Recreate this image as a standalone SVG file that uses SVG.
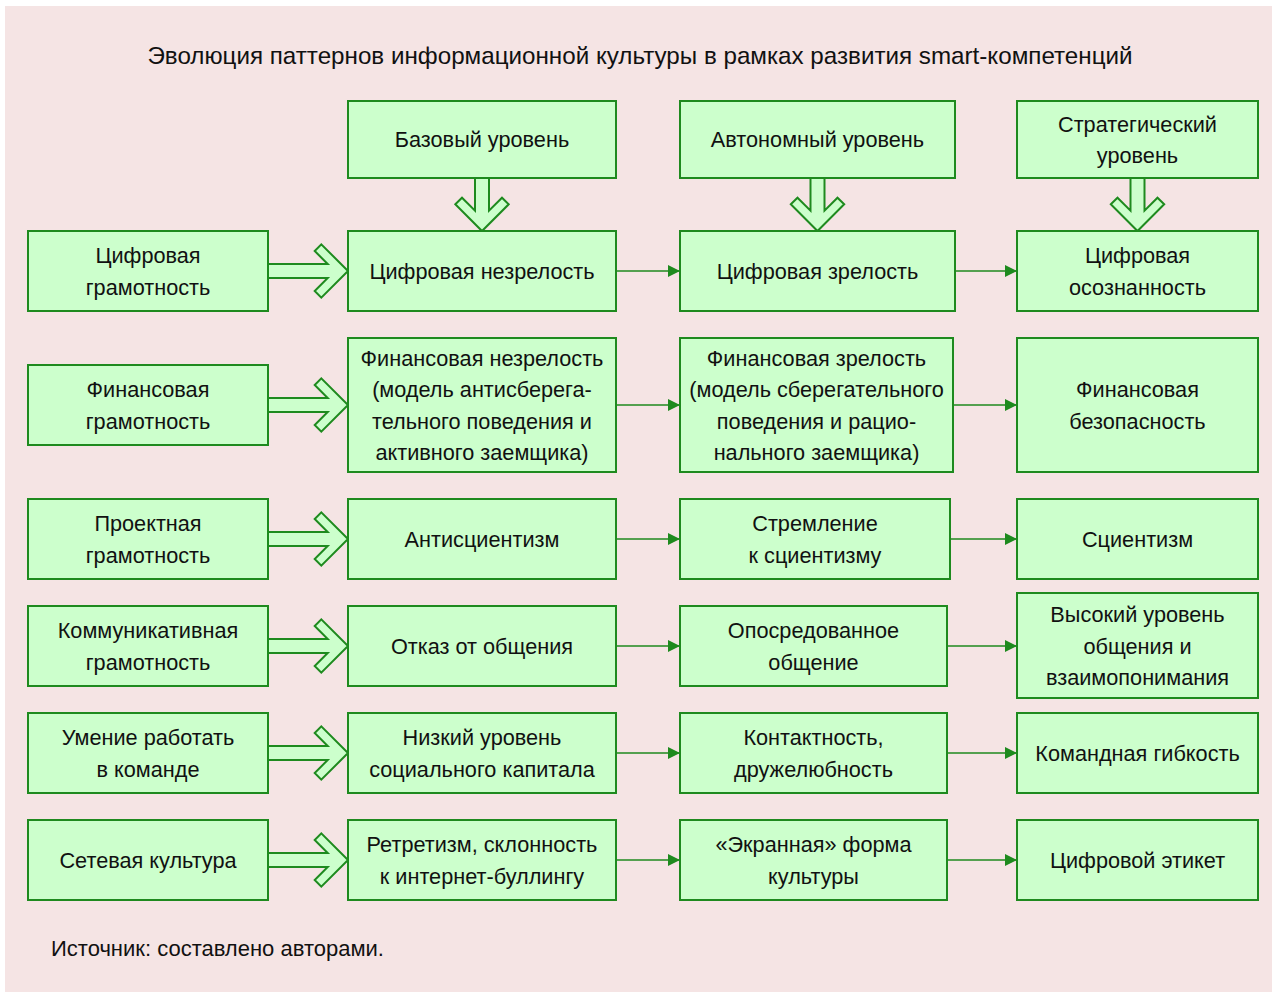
<svg xmlns="http://www.w3.org/2000/svg" width="1272" height="992" viewBox="0 0 1272 992">
<defs>
<style>
.bg{fill:#F5E4E4}
.box{fill:#CCFFCC;stroke:#1E8A1E;stroke-width:2}
.t{font-family:"Liberation Sans",Arial,sans-serif;font-size:21.7px;fill:#111;text-anchor:middle}
.title{font-family:"Liberation Sans",Arial,sans-serif;font-size:24.2px;fill:#111;text-anchor:middle}
.src{font-family:"Liberation Sans",Arial,sans-serif;font-size:22px;fill:#111}
.ln{stroke:#1E8A1E;stroke-width:1.6;fill:none}
.blk{fill:#CCFFCC;stroke:#1E8A1E;stroke-width:2;stroke-linejoin:miter}
</style>
<marker id="ah" markerWidth="12" markerHeight="12" refX="12" refY="6" orient="auto" markerUnits="userSpaceOnUse">
<path d="M0,0 L12,6 L0,12 Z" fill="#1E8A1E"/>
</marker>
<path id="harr" d="M0,-7 L59.7,-7 L46.7,-20 L53.3,-26.7 L80,0 L53.3,26.7 L46.7,20 L59.7,7 L0,7 Z"/>
<path id="varr" d="M-7,0 L-7,32.7 L-20,19.7 L-26.7,26.3 L0,53 L26.7,26.3 L20,19.7 L7,32.7 L7,0 Z"/>
</defs>
<rect class="bg" x="5" y="6" width="1267" height="986"/>
<text class="title" x="640" y="64">Эволюция паттернов информационной культуры в рамках развития smart-компетенций</text>

<g id="connectors">
<use href="#varr" class="blk" x="482" y="178"/>
<use href="#varr" class="blk" x="817.5" y="178"/>
<use href="#varr" class="blk" x="1137.5" y="178"/>
<use href="#harr" class="blk" x="268" y="271"/>
<use href="#harr" class="blk" x="268" y="405"/>
<use href="#harr" class="blk" x="268" y="539"/>
<use href="#harr" class="blk" x="268" y="646"/>
<use href="#harr" class="blk" x="268" y="753"/>
<use href="#harr" class="blk" x="268" y="860"/>
<line class="ln" x1="616" y1="271" x2="680" y2="271" marker-end="url(#ah)"/>
<line class="ln" x1="955" y1="271" x2="1017" y2="271" marker-end="url(#ah)"/>
<line class="ln" x1="616" y1="405" x2="680" y2="405" marker-end="url(#ah)"/>
<line class="ln" x1="953" y1="405" x2="1017" y2="405" marker-end="url(#ah)"/>
<line class="ln" x1="616" y1="539" x2="680" y2="539" marker-end="url(#ah)"/>
<line class="ln" x1="950" y1="539" x2="1017" y2="539" marker-end="url(#ah)"/>
<line class="ln" x1="616" y1="646" x2="680" y2="646" marker-end="url(#ah)"/>
<line class="ln" x1="947" y1="646" x2="1017" y2="646" marker-end="url(#ah)"/>
<line class="ln" x1="616" y1="753" x2="680" y2="753" marker-end="url(#ah)"/>
<line class="ln" x1="947" y1="753" x2="1017" y2="753" marker-end="url(#ah)"/>
<line class="ln" x1="616" y1="860" x2="680" y2="860" marker-end="url(#ah)"/>
<line class="ln" x1="947" y1="860" x2="1017" y2="860" marker-end="url(#ah)"/>
</g>

<g id="h1"><rect class="box" x="348" y="101" width="268" height="77"/><text class="t" x="482" y="147">Базовый уровень</text></g>
<g id="h2"><rect class="box" x="680" y="101" width="275" height="77"/><text class="t" x="817.5" y="147">Автономный уровень</text></g>
<g id="h3"><rect class="box" x="1017" y="101" width="241" height="77"/><text class="t" x="1137.5" y="131.5">Стратегический</text><text class="t" x="1137.5" y="163">уровень</text></g>

<g id="r1c1"><rect class="box" x="28" y="231" width="240" height="80"/><text class="t" x="148" y="263">Цифровая</text><text class="t" x="148" y="294.5">грамотность</text></g>
<g id="r1c2"><rect class="box" x="348" y="231" width="268" height="80"/><text class="t" x="482" y="279">Цифровая незрелость</text></g>
<g id="r1c3"><rect class="box" x="680" y="231" width="275" height="80"/><text class="t" x="817.5" y="279">Цифровая зрелость</text></g>
<g id="r1c4"><rect class="box" x="1017" y="231" width="241" height="80"/><text class="t" x="1137.5" y="263">Цифровая</text><text class="t" x="1137.5" y="294.5">осознанность</text></g>

<g id="r2c1"><rect class="box" x="28" y="365" width="240" height="80"/><text class="t" x="148" y="397">Финансовая</text><text class="t" x="148" y="428.5">грамотность</text></g>
<g id="r2c2"><rect class="box" x="348" y="338" width="268" height="134"/><text class="t" x="482" y="365.5">Финансовая незрелость</text><text class="t" x="482" y="397">(модель антисберега-</text><text class="t" x="482" y="428.5">тельного поведения и</text><text class="t" x="482" y="460">активного заемщика)</text></g>
<g id="r2c3"><rect class="box" x="680" y="338" width="273" height="134"/><text class="t" x="816.5" y="365.5">Финансовая зрелость</text><text class="t" x="816.5" y="397">(модель сберегательного</text><text class="t" x="816.5" y="428.5">поведения и рацио-</text><text class="t" x="816.5" y="460">нального заемщика)</text></g>
<g id="r2c4"><rect class="box" x="1017" y="338" width="241" height="134"/><text class="t" x="1137.5" y="397">Финансовая</text><text class="t" x="1137.5" y="428.5">безопасность</text></g>

<g id="r3c1"><rect class="box" x="28" y="499" width="240" height="80"/><text class="t" x="148" y="531">Проектная</text><text class="t" x="148" y="562.5">грамотность</text></g>
<g id="r3c2"><rect class="box" x="348" y="499" width="268" height="80"/><text class="t" x="482" y="547">Антисциентизм</text></g>
<g id="r3c3"><rect class="box" x="680" y="499" width="270" height="80"/><text class="t" x="815" y="531">Стремление</text><text class="t" x="815" y="562.5">к сциентизму</text></g>
<g id="r3c4"><rect class="box" x="1017" y="499" width="241" height="80"/><text class="t" x="1137.5" y="547">Сциентизм</text></g>

<g id="r4c1"><rect class="box" x="28" y="606" width="240" height="80"/><text class="t" x="148" y="638">Коммуникативная</text><text class="t" x="148" y="669.5">грамотность</text></g>
<g id="r4c2"><rect class="box" x="348" y="606" width="268" height="80"/><text class="t" x="482" y="654">Отказ от общения</text></g>
<g id="r4c3"><rect class="box" x="680" y="606" width="267" height="80"/><text class="t" x="813.5" y="638">Опосредованное</text><text class="t" x="813.5" y="669.5">общение</text></g>
<g id="r4c4"><rect class="box" x="1017" y="593" width="241" height="105"/><text class="t" x="1137.5" y="622">Высокий уровень</text><text class="t" x="1137.5" y="653.5">общения и</text><text class="t" x="1137.5" y="685">взаимопонимания</text></g>

<g id="r5c1"><rect class="box" x="28" y="713" width="240" height="80"/><text class="t" x="148" y="745">Умение работать</text><text class="t" x="148" y="776.5">в команде</text></g>
<g id="r5c2"><rect class="box" x="348" y="713" width="268" height="80"/><text class="t" x="482" y="745">Низкий уровень</text><text class="t" x="482" y="776.5">социального капитала</text></g>
<g id="r5c3"><rect class="box" x="680" y="713" width="267" height="80"/><text class="t" x="813.5" y="745">Контактность,</text><text class="t" x="813.5" y="776.5">дружелюбность</text></g>
<g id="r5c4"><rect class="box" x="1017" y="713" width="241" height="80"/><text class="t" x="1137.5" y="761">Командная гибкость</text></g>

<g id="r6c1"><rect class="box" x="28" y="820" width="240" height="80"/><text class="t" x="148" y="868">Сетевая культура</text></g>
<g id="r6c2"><rect class="box" x="348" y="820" width="268" height="80"/><text class="t" x="482" y="852">Ретретизм, склонность</text><text class="t" x="482" y="883.5">к интернет-буллингу</text></g>
<g id="r6c3"><rect class="box" x="680" y="820" width="267" height="80"/><text class="t" x="813.5" y="852">«Экранная» форма</text><text class="t" x="813.5" y="883.5">культуры</text></g>
<g id="r6c4"><rect class="box" x="1017" y="820" width="241" height="80"/><text class="t" x="1137.5" y="868">Цифровой этикет</text></g>

<text class="src" x="51" y="956">Источник: составлено авторами.</text>
</svg>
